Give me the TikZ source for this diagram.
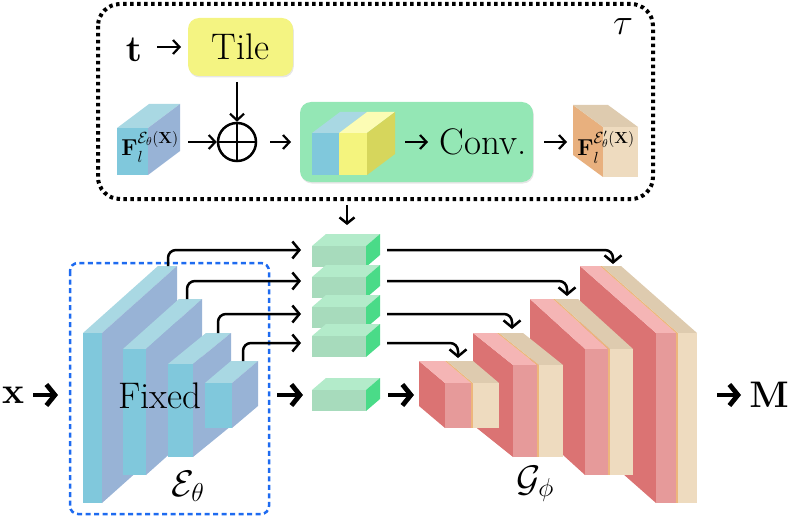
\RequirePackage{fix-cm}
\documentclass[tikz,border=0pt]{standalone}
\usepackage{amsmath}
\usetikzlibrary{arrows.meta,shadows}
\definecolor{encF}{HTML}{80C8DC}
\definecolor{encT}{HTML}{A9D8E3}
\definecolor{encS}{HTML}{98B3D6}
\definecolor{tileY}{HTML}{F4F482}
\definecolor{boxG}{HTML}{94E7B5}
\definecolor{yelF}{HTML}{F4F47E}
\definecolor{yelS}{HTML}{D6D65C}
\definecolor{yelT}{HTML}{FCFCB4}
\definecolor{gF}{HTML}{A7DBBC}
\definecolor{gT}{HTML}{B3EBCA}
\definecolor{gS}{HTML}{4ADB88}
\definecolor{redS}{HTML}{DB7373}
\definecolor{pinkF}{HTML}{E69A9A}
\definecolor{pinkT}{HTML}{F5B5B5}
\definecolor{begF}{HTML}{EEDBBF}
\definecolor{begT}{HTML}{DECBAF}
\definecolor{orgL}{HTML}{EDB67C}
\definecolor{orgS}{HTML}{E8B07E}
\definecolor{dashBlue}{HTML}{1E6BF0}
% encoder slab: x1 x2 ytop ybot dx dy
\newcommand{\encslab}[6]{%
  \fill[encT] (#1,#3) -- (#2,#3) -- (#2+#5,#3-#6) -- (#1+#5,#3-#6) -- cycle;
  \fill[encS] (#2,#3) -- (#2+#5,#3-#6) -- (#2+#5,#4-#6) -- (#2,#4) -- cycle;
  \fill[encF] (#1,#3) rectangle (#2,#4);}
% decoder group: xf w1 w2 ytop ybot dx dy
\newcommand{\decgroup}[7]{%
  \fill[redS] (#1-#6,#4-#7) -- (#1,#4) -- (#1,#5) -- (#1-#6,#5-#7) -- cycle;
  \fill[pinkT] (#1-#6,#4-#7) -- (#1-#6+#2,#4-#7) -- (#1+#2,#4) -- (#1,#4) -- cycle;
  \fill[pinkF] (#1,#4) rectangle (#1+#2,#5);
  \fill[orgL] (#1-#6+#2,#4-#7) -- (#1-#6+#2+2,#4-#7) -- (#1+#2+2,#4) -- (#1+#2,#4) -- cycle;
  \fill[orgL] (#1+#2,#4) rectangle (#1+#2+2,#5);
  \fill[begT] (#1-#6+#2+2,#4-#7) -- (#1-#6+#2+2+#3,#4-#7) -- (#1+#2+2+#3,#4) -- (#1+#2+2,#4) -- cycle;
  \fill[begF] (#1+#2+2,#4) rectangle (#1+#2+2+#3,#5);}
% green block: x1 ytop
\newcommand{\gblock}[2]{%
  \fill[gT] (#1,#2) -- (#1+54,#2) -- (#1+68,#2-12) -- (#1+14,#2-12) -- cycle;
  \fill[gS] (#1+54,#2) -- (#1+68,#2-12) -- (#1+68,#2+9) -- (#1+54,#2+21) -- cycle;
  \fill[gF] (#1,#2) rectangle (#1+54,#2+21);}
\begin{document}
\begin{tikzpicture}[x=1pt,y=-1pt,
  big/.style={font=\fontsize{37}{44}\selectfont, inner sep=0pt},
  flab/.style={font=\fontsize{23}{27}\selectfont, inner sep=0pt},
  thin/.style={line width=2.2pt, -{Straight Barb[length=6.5pt,width=14pt]}},
  thickarr/.style={line width=4.8pt, -{Straight Barb[length=8.5pt,width=21pt]}},
  skiparr/.style={line width=2.5pt, rounded corners=8pt, -{Straight Barb[length=7pt,width=17pt]}},
  roundbox/.style={rounded corners=11pt, drop shadow={opacity=0.2, shadow xshift=0.8pt, shadow yshift=-1.5pt}}]
\useasboundingbox (0,0) rectangle (789,516);

% ---------- tau module ----------
\draw[line width=4pt, dash pattern=on 3.5pt off 3.5pt, rounded corners=22pt] (98,4) rectangle (653,199);
\node[big] (tau) at (623,27) {$\tau$};
\node[big, anchor=base] (t) at (134,62) {$\mathbf{t}$};
\path[roundbox, fill=tileY] (188,18) rectangle (293,76);
\node[big] (tile) at (240.5,47) {Tile};
\coordinate (tileL) at (181,47);
\coordinate (tileB) at (237,82);
\coordinate (tE) at (157,47);
\draw[thin] (tE) -- (tileL);

% input feature cube
\fill[encT] (117,128) -- (148,128) -- (180,104) -- (149,104) -- cycle;
\fill[encS] (148,128) -- (180,104) -- (180,151) -- (148,175) -- cycle;
\fill[encF] (117,128) rectangle (148,175);
\node[flab] (fin) at (150,147) {$\mathbf{F}_l^{\mathcal{E}_\theta(\mathbf{X})}$};

\node[circle, draw, line width=2.5pt, minimum size=38pt, inner sep=0pt] (plus) at (237,142) {};
\draw[line width=2.5pt] (plus.north) -- (plus.south) (plus.west) -- (plus.east);
\draw[thin] (tileB) -- (plus.north);
\coordinate (finE) at (188,142);
\draw[thin] (finE) -- (plus.west);

\path[roundbox, fill=boxG] (300,102) rectangle (533,182);
\coordinate (boxL) at (291,142);
\coordinate (pE) at (270,142);
\draw[thin] (pE) -- (boxL);
% blue+yellow cube
\fill[encT] (312,133) -- (339,133) -- (367,112) -- (340,112) -- cycle;
\fill[yelT] (339,133) -- (367,133) -- (395,112) -- (367,112) -- cycle;
\fill[yelS] (367,133) -- (395,112) -- (395,154) -- (367,175) -- cycle;
\fill[encF] (312,133) rectangle (339,175);
\fill[yelF] (339,133) rectangle (367,175);
\node[big] (conv) at (483,142) {Conv.};
\coordinate (cubeE) at (405,142);
\coordinate (convW) at (428,142);
\draw[thin] (cubeE) -- (convW);

% output feature cube
\fill[orgS] (573,105) -- (603,127) -- (603,177) -- (573,155) -- cycle;
\fill[begT] (573,105) -- (608,105) -- (638,127) -- (603,127) -- cycle;
\fill[begF] (603,127) rectangle (638,177);
\node[flab] (fout) at (606,147) {$\mathbf{F}_l^{\mathcal{E}'_\theta(\mathbf{X})}$};
\coordinate (boxR) at (544,142);
\coordinate (foutW) at (567,142);
\draw[thin] (boxR) -- (foutW);

% ---------- encoder ----------
\encslab{83}{102}{333}{503}{75}{67}
\encslab{123}{146}{349}{475}{56}{50}
\encslab{168}{193}{364}{457}{38}{31}
\encslab{205}{232}{383}{428}{26}{22}
\draw[dashBlue, line width=2.5pt, dash pattern=on 5pt off 3.5pt, rounded corners=8pt] (70,263) rectangle (269,514);
\node[big, anchor=base] (fixed) at (160,408) {Fixed};
\node[big, anchor=base] (enc) at (188,496) {$\mathcal{E}_\theta$};

% ---------- green blocks ----------
\gblock{312}{246}
\gblock{312}{277}
\gblock{312}{307}
\gblock{312}{336}
\gblock{312}{390}
\coordinate (tauB) at (347,205);
\coordinate (g1T) at (347,225);
\draw[line width=2.5pt, -{Straight Barb[length=6pt,width=15pt]}] (tauB) -- (g1T);

% ---------- decoder ----------
\decgroup{656}{20}{19}{333}{503}{76}{67}
\decgroup{585}{23}{23}{349}{475}{55}{50}
\decgroup{513}{24}{24}{365}{457}{40}{32}
\decgroup{445}{26}{26}{383}{428}{26}{22}
\node[big, anchor=base] (dec) at (535,491) {$\mathcal{G}_\phi$};

% ---------- skip connections ----------
\coordinate (e1) at (168,266); \coordinate (b1) at (301,250);
\coordinate (e2) at (187,299); \coordinate (b2) at (301,281);
\coordinate (e3) at (218,333); \coordinate (b3) at (301,314);
\coordinate (e4) at (243,361); \coordinate (b4) at (301,343);
\draw[skiparr] (e1) |- (b1);
\draw[skiparr] (e2) |- (b2);
\draw[skiparr] (e3) |- (b3);
\draw[skiparr] (e4) |- (b4);
\coordinate (c1) at (387,250); \coordinate (d1) at (613,264);
\coordinate (c2) at (387,281); \coordinate (d2) at (567,296);
\coordinate (c3) at (387,314); \coordinate (d3) at (512,329);
\coordinate (c4) at (387,343); \coordinate (d4) at (458,358);
\draw[skiparr] (c1) -| (d1);
\draw[skiparr] (c2) -| (d2);
\draw[skiparr] (c3) -| (d3);
\draw[skiparr] (c4) -| (d4);

% ---------- main path ----------
\node[big] (x) at (13,395) {$\mathbf{x}$};
\node[big] (M) at (769,395) {$\mathbf{M}$};
\coordinate (xE) at (33,395);
\coordinate (encW) at (58,395);
\coordinate (encE) at (277,395);
\coordinate (g5W) at (303,395);
\coordinate (g5E) at (388,395);
\coordinate (decW) at (414,395);
\coordinate (decE) at (717,395);
\coordinate (Mw) at (741,395);
\draw[thickarr] (xE) -- (encW);
\draw[thickarr] (encE) -- (g5W);
\draw[thickarr] (g5E) -- (decW);
\draw[thickarr] (decE) -- (Mw);
\end{tikzpicture}
\end{document}
